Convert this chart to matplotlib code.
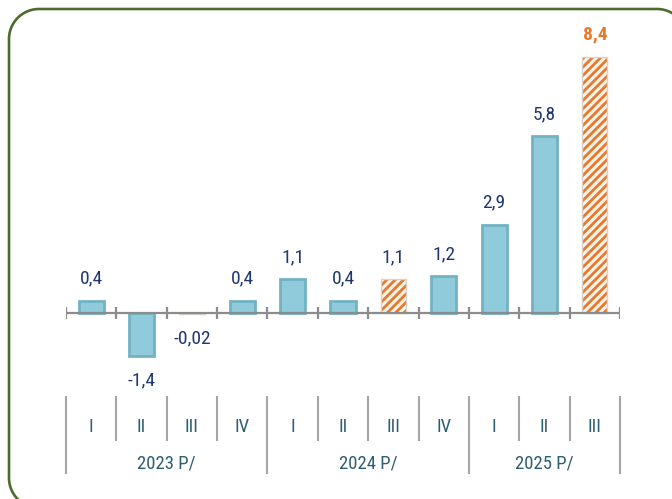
import matplotlib
matplotlib.use("Agg")
import numpy as np
import matplotlib.pyplot as plt
from matplotlib.lines import Line2D
from matplotlib.transforms import IdentityTransform, blended_transform_factory
from matplotlib import font_manager

quarters = ['I', 'II', 'III', 'IV', 'I', 'II', 'III', 'IV', 'I', 'II', 'III']
years = ['2023 P/', '2024 P/', '2025 P/']
year_counts = [4, 4, 3]
values = [0.4, -1.4, -0.02, 0.4, 1.1, 0.4, 1.1, 1.2, 2.9, 5.8, 8.4]
value_labels = ['0,4', '-1,4', '-0,02', '0,4', '1,1', '0,4', '1,1', '1,2', '2,9', '5,8', '8,4']
hatched = [False, False, True, False, False, False, True, False, False, False, True]

names = {f.name for f in font_manager.fontManager.ttflist}
cands = ['Roboto Condensed', 'Open Sans Condensed', 'Liberation Sans Narrow', 'Noto Sans Condensed',
         'DejaVu Sans Condensed', 'Lato']
chosen = [c for c in cands if c in names]
fam = chosen[:1] + ['DejaVu Sans']
plt.rcParams['font.family'] = fam
plt.rcParams['hatch.linewidth'] = 2.0
stretch = 'condensed' if fam[0] == 'DejaVu Sans Condensed' else 'normal'

W, H = 672, 499
fig = plt.figure(figsize=(W / 100, H / 100), dpi=100)
ax = fig.add_axes([66 / W, 1 - 480 / H, (620 - 66) / W, 450 / H])
ax.set_xlim(0, len(values))
ax.set_ylim(-5.475, 9.28)
ax.axis('off')

n = len(values)
xs = [i + 0.5 for i in range(n)]
blue_face = '#8FCBDA'
blue_edge = '#72B2C3'
orange = '#E8792B'
navy = '#1F3670'
teal = '#2E5E70'

for x, v, h in zip(xs, values, hatched):
    if h:
        ax.bar(x, v, width=0.5, color='#FBF3EC', edgecolor=orange, hatch='////', linewidth=0, zorder=2)
        ax.bar(x, v, width=0.5, fill=False, edgecolor='#D9D2CC', linewidth=1.0, zorder=3)
    else:
        ax.bar(x, v, width=0.5, color=blue_face, edgecolor=blue_edge, linewidth=2.0, zorder=2)

ax.plot([0, n], [0, 0], color='#8C8C8C', lw=1.6, zorder=4, solid_capstyle='butt')
for b in range(n + 1):
    ax.vlines(b, -6 / 30.5, 6 / 30.5, color='#8C8C8C', lw=1.6, zorder=4)

for x, v, lab, h in zip(xs, values, value_labels, hatched):
    last = (lab == value_labels[-1])
    off = 16 if v >= 0 else -18
    ax.annotate(lab, xy=(x, v), xytext=(0, off), textcoords='offset points',
                ha='center', va='center', fontsize=14, fontstretch=stretch,
                color=orange if last else navy,
                fontweight='bold' if last else 'normal')

tr = blended_transform_factory(ax.transData, fig.transFigure)
def fy(py):
    return 1 - py / H

starts = [0]
for c in year_counts:
    starts.append(starts[-1] + c)
group_bounds = set(starts)
for b in range(n + 1):
    bottom = 473 if b in group_bounds else 440
    ax.plot([b, b], [fy(397), fy(bottom)], color='#A6A6A6', lw=1.5, transform=tr, clip_on=False)

for x, q in zip(xs, quarters):
    ax.text(x, fy(427), q, transform=tr, ha='center', va='center', fontsize=13.5,
            fontstretch=stretch, color=teal)

for i, yl in enumerate(years):
    cx = (starts[i] + starts[i + 1]) / 2
    ax.text(cx, fy(463), yl, transform=tr, ha='center', va='center', fontsize=13.5,
            fontstretch=stretch, color=teal)

# rounded frame as an open path (display pixels, origin bottom-left)
r = 30
left, top, right, bottom = 9, 490, 687, -9
def arc(cx, cy, a0, a1):
    t = np.linspace(np.radians(a0), np.radians(a1), 30)
    return cx + r * np.cos(t), cy + r * np.sin(t)
pts_x, pts_y = [], []
for seg in [arc(right - r, top - r, 0, 90), arc(left + r, top - r, 90, 180),
            arc(left + r, bottom + r, 180, 270)]:
    pts_x.extend(seg[0]); pts_y.extend(seg[1])
frame = Line2D(pts_x, pts_y, transform=IdentityTransform(), color='#4E6B2E', lw=1.9,
               clip_on=False, solid_capstyle='butt')
fig.add_artist(frame)

fig.savefig('out.png', dpi=100)
